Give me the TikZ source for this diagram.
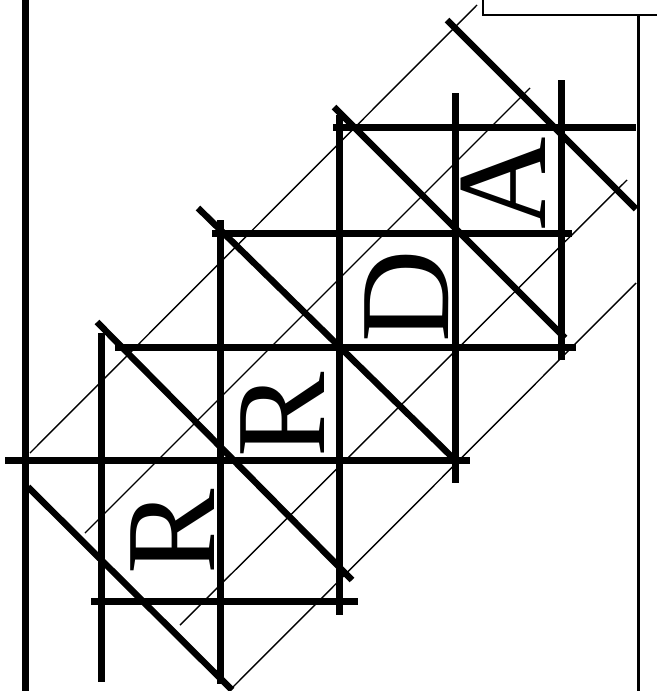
\documentclass[tikz,border=0pt]{standalone}
\usepackage{fontspec}
\setmainfont{Liberation Serif}
\usepackage{tikz}

\begin{document}
\begin{tikzpicture}[x=1pt, y=-1pt,
    beam/.style={line width=7pt},
    brace/.style={line width=6.5pt},
    hatch/.style={line width=1.4pt},
    rail/.style={line width=3pt},
    letter/.style={rotate=90, inner sep=0pt, font=\fontsize{128}{128}\selectfont}
]
    \useasboundingbox (0,0) rectangle (657,691);

    % Outer frame: left post, right post, top box
    \draw[beam] (25,0) -- (25,691);
    \draw[rail] (638,15) -- (638,691);
    \draw[line width=2pt] (483,0) -- (483,15) -- (657,15);

    % ── Thin hatch lines (rising to the right) ──
    \draw[hatch] (30,453)  -- (477,5);
    \draw[hatch] (85,533)  -- (530,88);
    \draw[hatch] (180,625) -- (627,180);
    \draw[hatch] (231,689) -- (636,283);

    % ── Horizontal beams ──
    \draw[beam] (333,127) -- (636,127);
    \draw[beam] (212,233) -- (572,233);
    \draw[beam] (115,347) -- (576,347);
    \draw[beam] (5,460)   -- (470,460);
    \draw[beam] (91,601)  -- (358,601);

    % ── Vertical beams ──
    \draw[beam] (101,333) -- (101,682);
    \draw[beam] (220,220) -- (220,684);
    \draw[beam] (339,115) -- (339,615);
    \draw[beam] (455,93)  -- (455,483);
    \draw[beam] (561,80)  -- (561,360);

    % ── Falling braces ──
    \draw[brace] (28,487)  -- (232,690);
    \draw[brace] (97,322)  -- (352,580);
    \draw[brace] (198,208) -- (455,460);
    \draw[brace] (334,107) -- (565,338);
    \draw[brace] (447,20)  -- (636,209);

    % Letters along the stair
    \node[letter] (r1) at (172.5,531.5) {R};
    \node[letter] (r2) at (282.5,414.5) {R};
    \node[letter] (d)  at (406.5,296.5) {D};
    \node[letter] (a)  at (503.5,183)   {A};
\end{tikzpicture}
\end{document}
